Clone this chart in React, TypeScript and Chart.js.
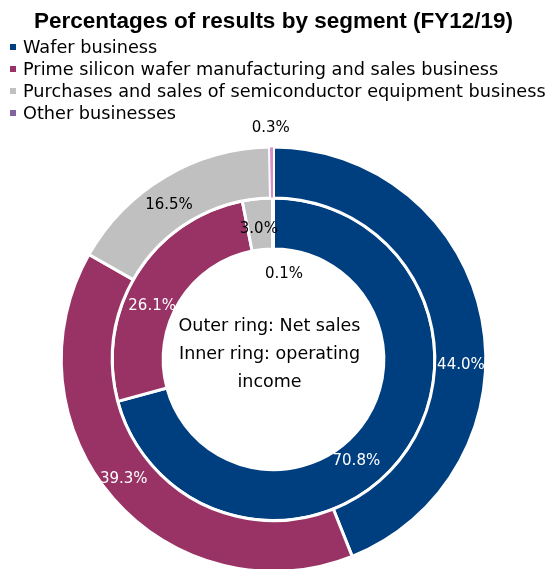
import React, { useEffect, useRef } from "react";
import { Chart, registerables } from "chart.js";

Chart.register(...registerables);

const segments = [
  "Wafer business",
  "Prime silicon wafer manufacturing and sales business",
  "Purchases and sales of semiconductor equipment business",
  "Other businesses",
];
const netSales = [44.0, 39.3, 16.5, 0.3]; // outer ring
const operatingIncome = [70.8, 26.1, 3.0, 0.1]; // inner ring
const sliceColors = ["#003F7F", "#993366", "#C0C0C0", "#D98CCB"];
const legendColors = ["#003F7F", "#993366", "#C0C0C0", "#8064A2"];
const outerLabelColors = ["#FFFFFF", "#FFFFFF", "#000000", "#000000"];
const innerLabelColors = ["#FFFFFF", "#FFFFFF", "#000000", "#000000"];
// manual nudges of labels from arc centroid (like moved labels in the source)
const outerLabelNudge = [[4, 41], [-9, -3], [-9, 6], [-1, -44]];
const innerLabelNudge = [[-25, 19], [-6, 19], [-1, 5], [11, 51]];
const centerLines = ["Outer ring: Net sales", "Inner ring: operating", "income"];
const titleText = "Percentages of results by segment (FY12/19)";

const FONT = "'DejaVu Sans', 'Liberation Sans', sans-serif";
const TITLE_FONT = "'Liberation Sans', Arial, sans-serif";

const overlayPlugin = {
  id: "overlay",
  afterDraw(chart: any) {
    const ctx = chart.ctx as CanvasRenderingContext2D;
    ctx.save();
    const sets = [
      { vals: netSales, colors: outerLabelColors, nudge: outerLabelNudge },
      { vals: operatingIncome, colors: innerLabelColors, nudge: innerLabelNudge },
    ];
    ctx.font = `15px ${FONT}`;
    ctx.textAlign = "center";
    ctx.textBaseline = "middle";
    let cx = 0, cy = 0;
    sets.forEach((s, di) => {
      const meta = chart.getDatasetMeta(di);
      meta.data.forEach((arc: any, i: number) => {
        const p = arc.getProps(["startAngle", "endAngle", "innerRadius", "outerRadius", "x", "y"], true);
        cx = p.x; cy = p.y;
        const a = (p.startAngle + p.endAngle) / 2;
        const r = (p.innerRadius + p.outerRadius) / 2;
        const x = p.x + Math.cos(a) * r + s.nudge[i][0];
        const y = p.y + Math.sin(a) * r + s.nudge[i][1];
        ctx.fillStyle = s.colors[i];
        ctx.fillText(s.vals[i].toFixed(1) + "%", x, y);
      });
    });
    ctx.fillStyle = "#000";
    ctx.font = `17.5px ${FONT}`;
    centerLines.forEach((t, i) => {
      ctx.fillText(t, cx - 4, cy - 33 + i * 28);
    });
    ctx.textAlign = "left";
    ctx.font = `17.7px ${FONT}`;
    segments.forEach((t, i) => {
      const y = 47 + i * 22;
      ctx.fillStyle = legendColors[i];
      ctx.fillRect(10, y - 3, 6, 6);
      ctx.fillStyle = "#000";
      ctx.fillText(t, 23, y + 1);
    });
    ctx.restore();
  },
};

export default function App() {
  const ref = useRef<HTMLCanvasElement>(null);
  useEffect(() => {
    if (!ref.current) return;
    const chart = new Chart(ref.current, {
      type: "doughnut",
      data: {
        labels: segments,
        datasets: [
          { label: "Net sales", data: netSales, backgroundColor: sliceColors, borderColor: "#FFFFFF", borderWidth: [3, 3, 3, 1] },
          { label: "Operating income", data: operatingIncome, backgroundColor: sliceColors, borderColor: "#FFFFFF", borderWidth: 3 },
        ],
      },
      options: {
        responsive: false,
        animation: false,
        cutout: "52%",
        layout: { padding: { left: 0, right: 0, top: 0, bottom: 7 } },
        plugins: {
          legend: { display: false },
          tooltip: { enabled: false },
          title: {
            display: true,
            text: titleText,
            color: "#000",
            font: { family: TITLE_FONT, size: 22.5, weight: "bold", lineHeight: 1.2 },
            padding: { top: 8, bottom: 110.5 },
          },
        },
      },
      plugins: [overlayPlugin],
    });
    return () => chart.destroy();
  }, []);
  return (
    <div style={{ position: "fixed", left: 0, top: 0, width: 547, height: 569, overflow: "hidden", background: "#fff" }}>
      <canvas ref={ref} width={547} height={580} />
    </div>
  );
}
